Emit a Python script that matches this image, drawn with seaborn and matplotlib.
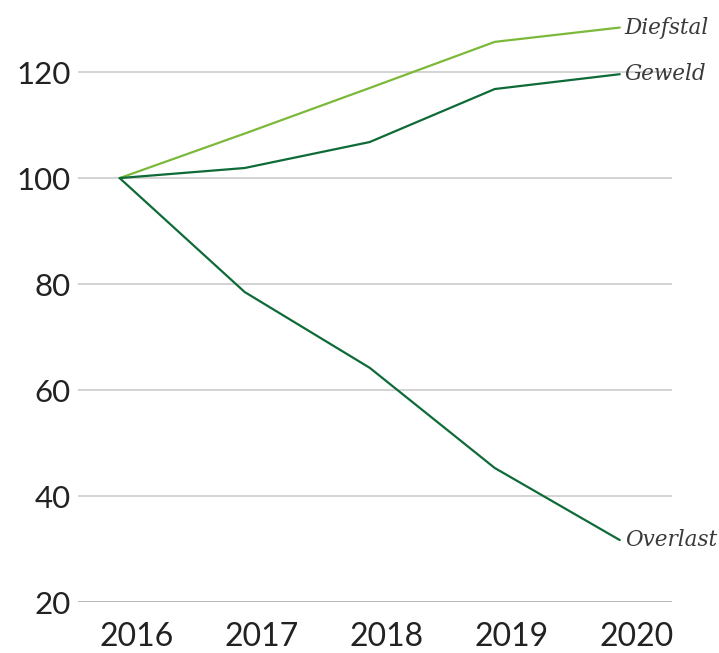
import matplotlib
matplotlib.use('Agg')
import matplotlib.pyplot as plt
import matplotlib.transforms as mtransforms
import pandas as pd
import seaborn as sns

# Data (index, 2016 = 100)
years = [2016, 2017, 2018, 2019, 2020]
diefstal = [100, 108.4, 117.0, 125.7, 128.4]
geweld = [100, 101.9, 106.8, 116.8, 119.6]
overlast = [100, 78.5, 64.2, 45.3, 31.7]
series_names = ['Diefstal', 'Geweld', 'Overlast']
y_ticks = [20, 40, 60, 80, 100, 120]

df = pd.DataFrame({
    'jaar': years * 3,
    'waarde': diefstal + geweld + overlast,
    'soort': [n for n in series_names for _ in years],
})

sns.set_style('white')
plt.rcParams['font.family'] = ['Lato', 'DejaVu Sans']

palette = {'Diefstal': '#7cb93a', 'Geweld': '#0e6b38', 'Overlast': '#0e6b38'}

fig = plt.figure(figsize=(7.19, 6.53), dpi=100)
ax = fig.add_axes([0.108, 0.078, 0.827, 0.922])

for y in y_ticks:
    ax.axhline(y, color='#a8a8a8' if y == 20 else '#cccccc', linewidth=1.2, zorder=0)

sns.lineplot(data=df, x='jaar', y='waarde', hue='soort', palette=palette,
             linewidth=1.6, legend=False, ax=ax)

# Line labels at the end of each line
for name, vals in zip(series_names, [diefstal, geweld, overlast]):
    ax.text(years[-1] + 0.04, vals[-1], name, fontsize=15.5, style='italic',
            family=['DejaVu Serif'], color='#3a3a3a', va='center', ha='left',
            clip_on=False)

ax.set_xlim(2015.664, 2020.42)
ax.set_ylim(20, 133.6)
ax.set_xticks(years)
ax.set_xticklabels([str(y) for y in years])
ax.set_yticks(y_ticks)
ax.set_yticklabels([str(y) for y in y_ticks])
ax.tick_params(axis='both', length=0, colors='#222222')
ax.tick_params(axis='x', pad=14, labelsize=23)
ax.tick_params(axis='y', pad=5, labelsize=22.5)

# year labels sit slightly right of the data points in the reference
shift = mtransforms.ScaledTranslation(17 / 100, 0, fig.dpi_scale_trans)
for lbl in ax.get_xticklabels():
    lbl.set_transform(lbl.get_transform() + shift)

for side in ['top', 'right', 'left', 'bottom']:
    ax.spines[side].set_visible(False)
ax.set_xlabel('')
ax.set_ylabel('')

fig.savefig('out.png', dpi=100)
